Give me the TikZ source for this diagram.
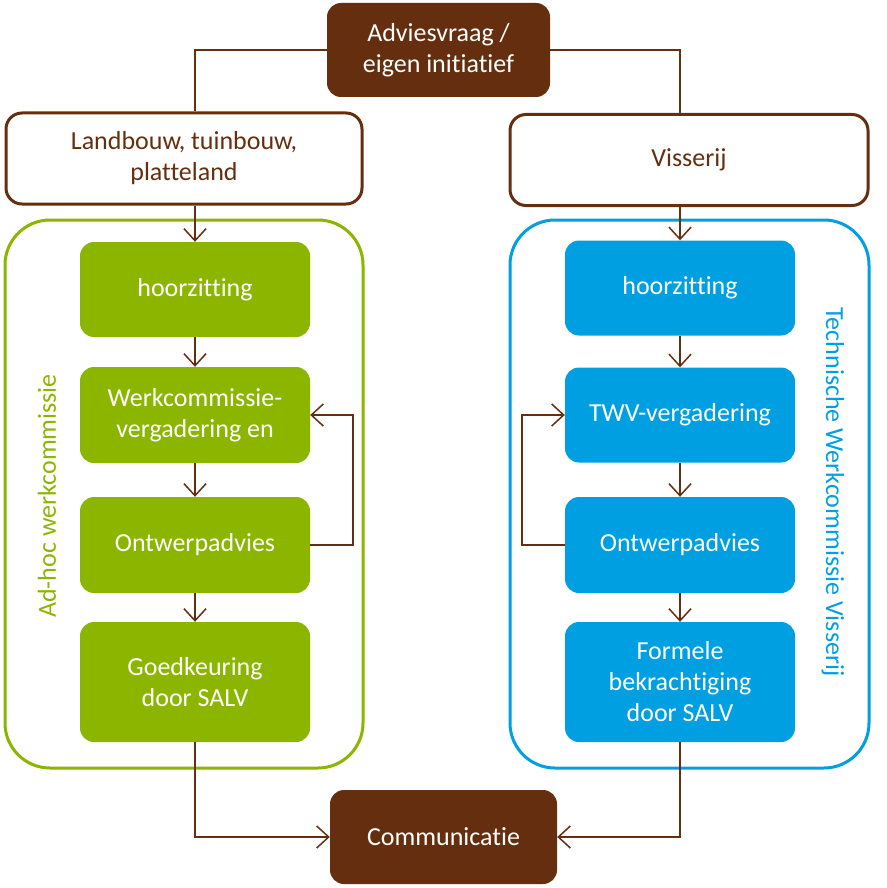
\documentclass[tikz,border=0pt]{standalone}
\usepackage{fontspec}
\setmainfont{Carlito}[Ligatures={NoCommon}]
\usepackage{xcolor}
\usetikzlibrary{positioning,calc,arrows.meta}
\definecolor{bruin}{HTML}{652F0F}
\definecolor{groen}{HTML}{8CB500}
\definecolor{blauw}{HTML}{009FE1}

\begin{document}
\begin{tikzpicture}[x=1pt,y=-1pt,
    tekst/.style={font=\fontsize{26}{31}\selectfont,align=center},
    bruinbox/.style={tekst,fill=bruin,text=white,rounded corners=14pt,inner sep=0pt},
    witbox/.style={tekst,draw=bruin,line width=3pt,fill=white,text=bruin,rounded corners=16pt,inner sep=0pt},
    groenbox/.style={tekst,fill=groen,text=white,rounded corners=14pt,minimum width=230pt,inner sep=0pt},
    blauwbox/.style={tekst,fill=blauw,text=white,rounded corners=14pt,minimum width=230pt,inner sep=0pt},
    pijl/.style={draw=bruin,line width=1.5pt,-{Straight Barb[length=12pt,width=22pt,line width=1.5pt]}},
    lijn/.style={draw=bruin,line width=1.5pt}]
    \useasboundingbox (0,0) rectangle (886,888);

    % kaders van de twee commissies
    \draw[groen,line width=3pt,rounded corners=45pt] (5,220) rectangle (363,768);
    \draw[blauw,line width=3pt,rounded corners=45pt] (510,220) rectangle (869,768);
    \node[tekst,text=groen,rotate=90] (adhoc) at (47,496) {Ad-hoc werkcommissie};
    \node[tekst,text=blauw,rotate=-90] (tw) at (833,492) {Technische Werkcommissie Visserij};

    \node[bruinbox,minimum width=223pt,minimum height=94pt] (advies) at (438.5,50) {Adviesvraag /\\eigen initiatief};
    \node[witbox,minimum width=356pt,minimum height=91pt] (land) at (184,158.5) {Landbouw, tuinbouw,\\platteland};
    \node[witbox,minimum width=358pt,minimum height=91pt] (viss) at (689,160) {Visserij};

    \node[groenbox,minimum height=95pt] (ghoor) at (195,289.5) {hoorzitting};
    \node[groenbox,minimum height=96pt] (gwerk) at (195,415) {Werkcommissie-\\vergadering en};
    \node[groenbox,minimum height=96pt] (gontw) at (195,545) {Ontwerpadvies};
    \node[groenbox,minimum height=120pt] (ggoed) at (195,682) {Goedkeuring\\door SALV};

    \node[blauwbox,minimum height=95pt] (bhoor) at (680,288) {hoorzitting};
    \node[blauwbox,minimum height=95pt] (btwv) at (680,415) {TWV-vergadering};
    \node[blauwbox,minimum height=96pt] (bontw) at (680,545) {Ontwerpadvies};
    \node[blauwbox,minimum height=120pt] (bform) at (680,682) {Formele\\bekrachtiging\\door SALV};

    \node[bruinbox,minimum width=227pt,minimum height=94pt] (comm) at (443.5,837) {Communicatie};

    \draw[lijn] (advies.west) -| (ghoor.north |- land.north);
    \draw[lijn] (advies.east) -| (bhoor.north |- viss.north);
    \draw[pijl] (ghoor.north |- land.south) -- (ghoor.north);
    \draw[pijl] (bhoor.north |- viss.south) -- (bhoor.north);

    \draw[pijl] (ghoor) -- (gwerk);
    \draw[pijl] (gwerk) -- (gontw);
    \draw[pijl] (gontw) -- (ggoed);
    \draw[pijl] (gontw.east) -- ++(43,0) |- (gwerk.east);

    \draw[pijl] (bhoor) -- (btwv);
    \draw[pijl] (btwv) -- (bontw);
    \draw[pijl] (bontw) -- (bform);
    \draw[pijl] (bontw.west) -- ++(-43,0) |- (btwv.west);

    \draw[pijl] (ggoed.south) |- (comm.west);
    \draw[pijl] (bform.south) |- (comm.east);
\end{tikzpicture}
\end{document}
